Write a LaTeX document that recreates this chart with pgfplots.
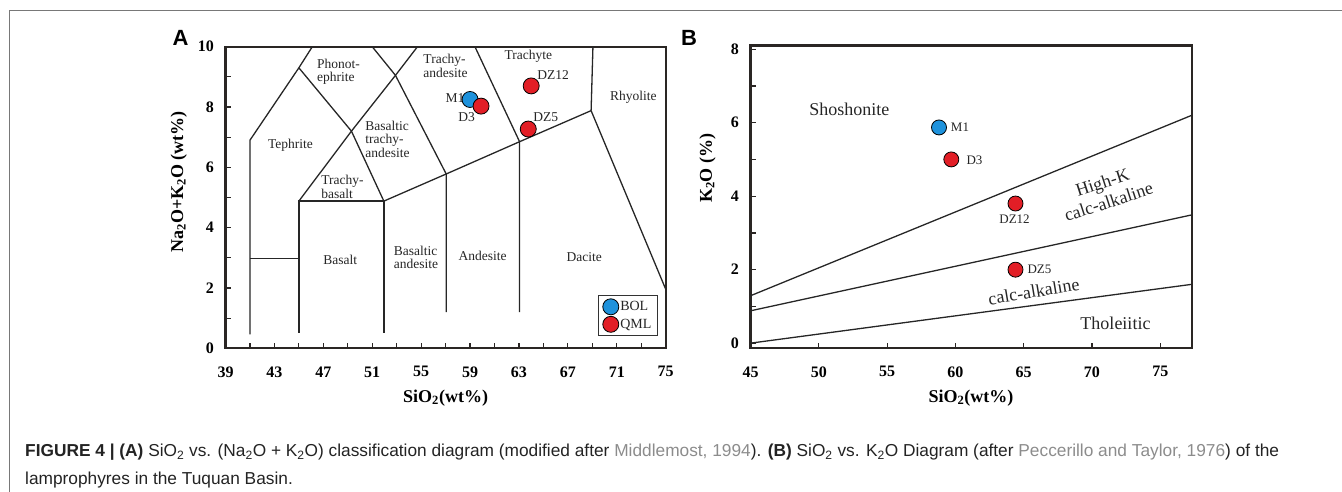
\documentclass[border=0pt]{standalone}
\usepackage{fontspec}
\setmainfont{Liberation Serif}
\newfontfamily\capfont{Liberation Sans}
\usepackage{pgfplots}
\pgfplotsset{compat=1.18}
\definecolor{bolblue}{RGB}{30,146,220}
\definecolor{qmlred}{RGB}{226,30,38}
\definecolor{axcol}{RGB}{42,38,36}
\definecolor{framegray}{RGB}{120,120,120}
\definecolor{linkgray}{RGB}{140,140,140}
\definecolor{captxt}{RGB}{35,35,35}
\tikzset{
  albl/.style={font=\fontsize{13.5}{13.5}\selectfont, text=black!85},
  blbl/.style={font=\fontsize{18}{20}\selectfont, text=black!85},
  plbl/.style={font=\fontsize{13}{13}\selectfont, text=black!85},
}
\pgfplotsset{
  geochart/.style={
    scale only axis, clip=false,
    axis line style={axcol, line width=2.2pt},
    tick style={axcol, line width=1.2pt},
    tick align=inside, tick pos=left,
    major tick length=5.5pt, minor tick length=5.5pt,
    tick label style={font=\fontsize{16}{18}\selectfont\bfseries, inner sep=2pt},
    /pgf/number format/assume math mode=true,
    xticklabel shift=16pt, yticklabel shift=9.5pt,
  },
  tasline/.style={no marks, black!85, line width=1.3pt, forget plot},
  bolpt/.style={only marks, mark=*, mark size=8pt, mark options={fill=bolblue, draw=black, line width=0.8pt}},
  qmlpt/.style={only marks, mark=*, mark size=8pt, mark options={fill=qmlred, draw=black, line width=0.8pt}},
}
\begin{document}
\begin{tikzpicture}
\useasboundingbox (0pt,0pt) rectangle (1342pt,-492pt);
\draw[framegray, line width=1.3pt] (9.5pt,-492pt) -- (9.5pt,-10.5pt) -- (1342pt,-10.5pt);

% ---------------- Panel A ----------------
\begin{axis}[geochart, at={(225.5pt,-348.3pt)}, anchor=south west,
  width=440.2pt, height=301.6pt,
  xmin=39, xmax=75, ymin=0, ymax=10,
  xtick={39,43,...,75}, minor xtick={41,45,...,73},
  ytick={0,2,...,10}, minor ytick={1,3,...,9},
  legend style={at={(1,0)}, anchor=south east, xshift=-8.4pt, yshift=12.6pt,
    draw=black!80, line width=0.8pt, font=\fontsize{14}{15}\selectfont,
    inner xsep=4pt, inner ysep=3pt, row sep=1.5pt, nodes={inner sep=1.5pt, text=black!85}},
  legend cell align=left,
]
\addplot[tasline] coordinates {(41,0.46) (41,6.9) (45,9.3) (46.1,10)};
\addplot[tasline] coordinates {(41,2.98) (45,2.98)};
\addplot[tasline] coordinates {(45,0.52) (45,4.88) (51.95,4.88) (51.95,0.5)};
\addplot[tasline] coordinates {(45,9.3) (49.3,7.2) (51.95,4.88)};
\addplot[tasline] coordinates {(45,4.88) (49.3,7.2) (52.9,9.05) (54.7,10)};
\addplot[tasline] coordinates {(51.95,4.88) (57.05,5.78) (63.05,6.85) (68.9,7.88)};
\addplot[tasline] coordinates {(57.05,1.2) (57.05,5.78) (52.9,9.05) (51.0,10)};
\addplot[tasline] coordinates {(63.05,1.2) (63.05,6.85) (59.4,10)};
\addplot[tasline] coordinates {(68.9,7.88) (69.05,10)};
\addplot[tasline] coordinates {(68.9,7.88) (75,1.96)};

\addplot[bolpt] coordinates {(59.0,8.25)};
\addlegendentry{BOL}
\addplot[qmlpt] coordinates {(59.9,8.03) (64.0,8.70) (63.76,7.27)};
\addlegendentry{QML}

\node[albl, align=left] at (axis cs:48.24,9.17) {Phonot-\\ephrite};
\node[albl] at (axis cs:44.32,6.72) {Tephrite};
\node[albl, align=left] at (axis cs:52.25,6.93) {Basaltic\\trachy-\\andesite};
\node[albl, align=left] at (axis cs:48.57,5.36) {Trachy-\\basalt};
\node[albl, align=left] at (axis cs:57.0,9.37) {Trachy-\\andesite};
\node[albl] at (axis cs:63.76,9.67) {Trachyte};
\node[albl] at (axis cs:72.35,8.33) {Rhyolite};
\node[albl] at (axis cs:48.38,2.93) {Basalt};
\node[albl, align=left] at (axis cs:54.57,3.02) {Basaltic\\andesite};
\node[albl] at (axis cs:60.03,3.07) {Andesite};
\node[albl] at (axis cs:68.34,3.04) {Dacite};
\node[albl, anchor=east, inner sep=0.5pt] at (axis cs:58.6,8.31) {M1};
\node[albl] at (axis cs:58.72,7.66) {D3};
\node[albl] at (axis cs:65.8,9.06) {DZ12};
\node[albl] at (axis cs:65.2,7.68) {DZ5};
\end{axis}

\node[font=\fontsize{18}{20}\selectfont\bfseries, rotate=90] at (178.8pt,-181.7pt) {Na\textsubscript{2}O+K\textsubscript{2}O (wt\%)};
\node[font=\fontsize{18}{20}\selectfont\bfseries] at (445.6pt,-398pt) {SiO\textsubscript{2}(wt\%)};
\node[font=\capfont\bfseries\fontsize{22}{22}\selectfont] at (180.5pt,-38pt) {A};

% ---------------- Panel B ----------------
\begin{axis}[geochart, at={(750.5pt,-348.3pt)}, anchor=south west,
  width=441.2pt, height=302.8pt,
  xmin=45, xmax=77.3, ymin=-0.14, ymax=8.1,
  xtick={45,50,...,75},
  ytick={0,2,...,8}, minor ytick={1,3,...,7},
]
\addplot[tasline] coordinates {(45,1.29) (77.3,6.2)};
\addplot[tasline] coordinates {(45,0.88) (77.3,3.49)};
\addplot[tasline] coordinates {(45,0.0) (77.3,1.6)};

\addplot[bolpt, mark size=7.5pt] coordinates {(58.8,5.87)};
\addplot[qmlpt, mark size=7.5pt] coordinates {(59.7,5.0) (64.4,3.8) (64.4,2.0)};

\node[blbl] at (axis cs:52.23,6.37) {Shoshonite};
\node[blbl, rotate=18, align=center, font=\fontsize{18}{20.5}\selectfont] at (axis cs:70.99,4.11) {High-K\\calc-alkaline};
\node[blbl, rotate=9.5] at (axis cs:65.74,1.41) {calc-alkaline};
\node[blbl] at (axis cs:71.72,0.54) {Tholeiitic};
\node[plbl, anchor=west, inner sep=0pt] at (axis cs:59.66,5.88) {M1};
\node[plbl, anchor=west, inner sep=0pt] at (axis cs:60.8,4.99) {D3};
\node[plbl] at (axis cs:64.33,3.36) {DZ12};
\node[plbl, anchor=west, inner sep=0pt] at (axis cs:65.27,2.01) {DZ5};
\end{axis}

\node[font=\fontsize{18}{20}\selectfont\bfseries, rotate=90] at (707.5pt,-168.3pt) {K\textsubscript{2}O (\%)};
\node[font=\fontsize{18}{20}\selectfont\bfseries] at (971pt,-398pt) {SiO\textsubscript{2}(wt\%)};
\node[font=\capfont\bfseries\fontsize{22}{22}\selectfont] at (689pt,-38pt) {B};

% ---------------- Caption ----------------
\node[anchor=base west, inner sep=0pt, text=captxt, font=\capfont\fontsize{17.3}{20}\selectfont] at (25pt,-456.7pt)
 {\textbf{FIGURE 4 | (A)} SiO\textsubscript{2} vs. (Na\textsubscript{2}O + K\textsubscript{2}O) classification diagram (modified after \textcolor{linkgray}{Middlemost, 1994}). \textbf{(B)} SiO\textsubscript{2} vs. K\textsubscript{2}O Diagram (after \textcolor{linkgray}{Peccerillo and Taylor, 1976}) of the};
\node[anchor=base west, inner sep=0pt, text=captxt, font=\capfont\fontsize{17.3}{20}\selectfont] at (25pt,-484pt)
 {lamprophyres in the Tuquan Basin.};
\end{tikzpicture}
\end{document}
